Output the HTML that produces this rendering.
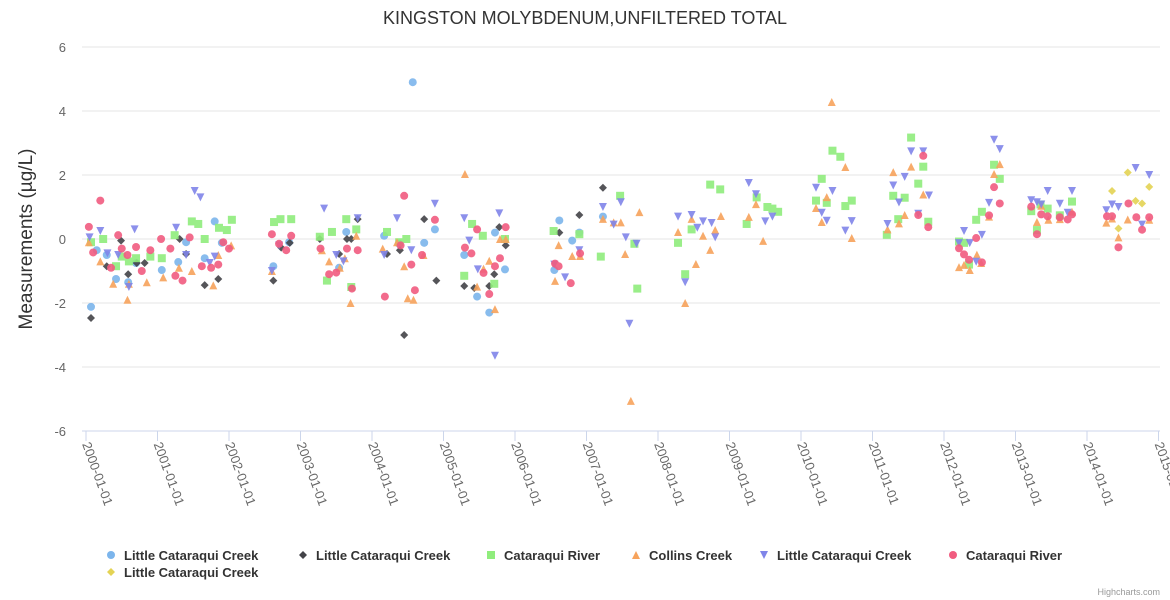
<!DOCTYPE html>
<html><head><meta charset="utf-8">
<style>
body{margin:0;background:#fff;}
svg{display:block;font-family:"Liberation Sans",Arial,sans-serif;}
</style></head>
<body>
<svg id="chart" width="1170" height="600">
<rect width="1170" height="600" fill="#fff"/>
<text x="585" y="24" text-anchor="middle" font-size="18" fill="#333">KINGSTON MOLYBDENUM,UNFILTERED TOTAL</text>
<text transform="translate(32,239) rotate(-90)" text-anchor="middle" font-size="19" fill="#333">Measurements (µg/L)</text>
<g id="grid"></g><g id="xaxis"></g><g id="marks"></g><g id="legend"></g>
<text x="1160" y="595" text-anchor="end" font-size="9" fill="#999">Highcharts.com</text>
</svg>
<script>
const yTicks=[-6,-4,-2,0,2,4,6];
const xYears=[2000,2001,2002,2003,2004,2005,2006,2007,2008,2009,2010,2011,2012,2013,2014,2015];
const seriesNames=["Little Cataraqui Creek","Little Cataraqui Creek","Cataraqui River","Collins Creek","Little Cataraqui Creek","Cataraqui River","Little Cataraqui Creek"];
const seriesColors=["#7cb5ec","#434348","#90ed7d","#f7a35c","#8085e9","#f15c80","#e4d354"];
const seriesSymbols=["circle","diamond","square","triangle","triangle-down","circle","diamond"];
const s0=[[2000.07,-2.12],[2000.15,-0.35],[2000.29,-0.5],[2000.42,-1.25],[2000.59,-1.35],[2000.7,-0.75],[2001.06,-0.97],[2001.29,-0.72],[2001.4,-0.1],[2001.66,-0.6],[2001.8,0.55],[2001.9,-0.12],[2002.62,-0.85],[2002.84,-0.1],[2003.54,-0.9],[2003.64,0.22],[2004.17,0.1],[2004.38,-0.15],[2004.57,4.9],[2004.73,-0.12],[2004.88,0.3],[2005.29,-0.5],[2005.47,-1.8],[2005.64,-2.3],[2005.72,0.2],[2005.86,-0.95],[2006.55,-0.97],[2006.62,0.58],[2006.8,-0.05],[2006.9,0.2],[2007.23,0.7]];
const s1=[[2000.07,-2.47],[2000.29,-0.85],[2000.49,-0.05],[2000.59,-1.1],[2000.71,-0.75],[2000.82,-0.75],[2001.31,0],[2001.4,-0.47],[2001.66,-1.44],[2001.85,-1.25],[2002.62,-1.3],[2002.73,-0.27],[2002.85,-0.12],[2003.27,0],[2003.54,-0.47],[2003.65,0],[2003.71,0],[2003.8,0.62],[2004.21,-0.47],[2004.39,-0.35],[2004.45,-3],[2004.73,0.62],[2004.9,-1.3],[2005.29,-1.47],[2005.43,-1.53],[2005.64,-1.47],[2005.71,-1.1],[2005.78,0.37],[2005.87,-0.2],[2006.62,0.2],[2006.9,0.75],[2007.23,1.6]];
const s2=[[2000.07,-0.1],[2000.24,0],[2000.42,-0.85],[2000.5,-0.55],[2000.6,-0.7],[2000.7,-0.6],[2000.9,-0.55],[2001.06,-0.6],[2001.24,0.12],[2001.48,0.55],[2001.57,0.47],[2001.66,0],[2001.86,0.35],[2001.97,0.28],[2002.04,0.6],[2002.63,0.53],[2002.72,0.62],[2002.87,0.62],[2003.27,0.07],[2003.44,0.22],[2003.64,0.62],[2003.78,0.3],[2003.37,-1.3],[2003.71,-1.5],[2004.21,0.22],[2004.38,-0.1],[2004.48,0],[2005.29,-1.15],[2005.4,0.47],[2005.55,0.1],[2005.71,-1.4],[2005.86,0],[2006.54,0.25],[2006.9,0.15],[2007.2,-0.55],[2007.47,1.35],[2007.67,-0.15],[2007.71,-1.55],[2008.28,-0.12],[2008.38,-1.1],[2008.47,0.3],[2008.73,1.7],[2008.87,1.55],[2009.24,0.47],[2009.38,1.3],[2009.53,1.0],[2009.6,0.95],[2009.68,0.85],[2010.44,2.76],[2010.55,2.57],[2010.29,1.88],[2010.21,1.2],[2010.36,1.13],[2010.62,1.03],[2010.71,1.2],[2011.54,3.17],[2011.71,2.26],[2011.64,1.73],[2011.29,1.35],[2011.45,1.29],[2011.36,0.62],[2011.78,0.54],[2011.2,0.13],[2012.21,-0.08],[2012.28,-0.12],[2012.35,-0.8],[2012.45,0.6],[2012.53,0.85],[2012.7,2.32],[2012.78,1.88],[2013.22,0.87],[2013.35,1.08],[2013.45,0.95],[2013.62,0.74],[2013.79,1.17],[2013.3,0.28]];
const s3=[[2000.04,-0.1],[2000.2,-0.7],[2000.38,-1.4],[2000.58,-1.9],[2000.6,-1.4],[2000.85,-1.35],[2001.08,-1.2],[2001.3,-0.9],[2001.48,-1.0],[2001.78,-1.45],[2001.85,-0.5],[2002.03,-0.2],[2002.6,-1.0],[2003.3,-0.35],[2003.4,-0.7],[2003.55,-0.9],[2003.62,-0.6],[2003.7,-2.0],[2003.78,0.1],[2004.15,-0.3],[2004.35,-0.1],[2004.45,-0.85],[2004.5,-1.85],[2004.58,-1.9],[2004.72,-0.5],[2005.3,2.03],[2005.47,-1.49],[2005.56,-0.93],[2005.64,-0.68],[2005.72,-2.19],[2005.79,0],[2005.87,0],[2006.56,-1.31],[2006.61,-0.19],[2006.8,-0.53],[2006.91,-0.53],[2007.23,0.63],[2007.38,0.52],[2007.48,0.52],[2007.54,-0.47],[2007.74,0.84],[2007.62,-5.06],[2008.28,0.22],[2008.38,-2.0],[2008.47,0.63],[2008.53,-0.78],[2008.63,0.1],[2008.73,-0.34],[2008.8,0.28],[2008.88,0.72],[2009.27,0.69],[2009.37,1.09],[2009.47,-0.06],[2010.62,2.25],[2010.36,1.31],[2010.21,0.97],[2010.29,0.53],[2010.71,0.03],[2010.43,4.28],[2011.29,2.09],[2011.54,2.26],[2011.71,1.39],[2011.45,0.75],[2011.37,0.49],[2011.21,0.3],[2012.78,2.34],[2012.7,2.03],[2012.63,0.7],[2012.46,-0.49],[2012.21,-0.88],[2012.28,-0.81],[2012.36,-0.97],[2012.52,-0.75],[2013.3,0.53],[2013.36,1.04],[2013.46,0.6],[2013.62,0.62],[2013.79,0.85],[2014.27,0.51],[2014.35,0.64],[2014.44,0.05],[2014.57,0.61],[2014.87,0.6]];
const s4=[[2000.05,0.05],[2000.2,0.25],[2000.3,-0.45],[2000.45,-0.5],[2000.6,-1.5],[2000.68,0.3],[2001.26,0.35],[2001.4,-0.5],[2001.52,1.5],[2001.6,1.3],[2001.73,-0.75],[2001.8,-0.55],[2002.6,-1.0],[2002.7,-0.2],[2003.33,0.95],[2003.5,-0.5],[2003.6,-0.7],[2003.8,0.65],[2004.17,-0.5],[2004.35,0.65],[2004.55,-0.35],[2004.88,1.1],[2005.29,0.65],[2005.36,-0.05],[2005.48,-0.95],[2005.72,-3.65],[2005.78,0.8],[2006.55,-0.8],[2006.7,-1.2],[2006.9,-0.35],[2007.23,1.0],[2007.38,0.45],[2007.48,1.15],[2007.55,0.05],[2007.6,-2.65],[2007.7,-0.15],[2008.28,0.7],[2008.38,-1.35],[2008.47,0.75],[2008.55,0.35],[2008.63,0.55],[2008.75,0.5],[2008.8,0.05],[2009.27,1.75],[2009.37,1.4],[2009.5,0.55],[2009.6,0.7],[2010.21,1.6],[2010.44,1.5],[2010.29,0.82],[2010.36,0.57],[2010.62,0.26],[2010.71,0.56],[2011.54,2.74],[2011.71,2.74],[2011.45,1.94],[2011.29,1.67],[2011.37,1.14],[2011.79,1.36],[2011.21,0.47],[2011.64,0.79],[2012.7,3.1],[2012.78,2.81],[2012.63,1.13],[2012.53,0.13],[2012.28,0.25],[2012.36,-0.13],[2012.21,-0.13],[2012.45,-0.71],[2013.22,1.21],[2013.3,1.15],[2013.36,1.08],[2013.45,1.5],[2013.62,1.1],[2013.79,1.5],[2013.73,0.82],[2014.27,0.9],[2014.35,1.08],[2014.44,1.0],[2014.68,2.22],[2014.87,2.0],[2014.77,0.45]];
const s5=[[2000.04,0.38],[2000.1,-0.42],[2000.2,1.2],[2000.35,-0.9],[2000.45,0.12],[2000.5,-0.3],[2000.58,-0.5],[2000.7,-0.25],[2000.78,-1.0],[2000.9,-0.35],[2001.05,0.0],[2001.18,-0.3],[2001.25,-1.15],[2001.35,-1.3],[2001.45,0.05],[2001.62,-0.85],[2001.75,-0.9],[2001.85,-0.8],[2001.92,-0.1],[2002.0,-0.3],[2002.6,0.15],[2002.7,-0.15],[2002.8,-0.35],[2002.87,0.1],[2003.28,-0.3],[2003.4,-1.1],[2003.5,-1.05],[2003.65,-0.3],[2003.72,-1.55],[2003.8,-0.35],[2004.18,-1.8],[2004.4,-0.2],[2004.45,1.35],[2004.55,-0.8],[2004.6,-1.6],[2004.7,-0.5],[2004.88,0.6],[2005.3,-0.27],[2005.39,-0.45],[2005.47,0.3],[2005.56,-1.06],[2005.64,-1.72],[2005.72,-0.85],[2005.79,-0.6],[2005.87,0.37],[2006.56,-0.77],[2006.61,-0.85],[2006.78,-1.38],[2006.91,-0.45],[2011.71,2.6],[2011.64,0.75],[2011.78,0.37],[2012.7,1.62],[2012.78,1.11],[2012.63,0.74],[2012.45,0.03],[2012.21,-0.29],[2012.28,-0.48],[2012.35,-0.65],[2012.53,-0.73],[2013.22,1.01],[2013.36,0.77],[2013.45,0.71],[2013.62,0.68],[2013.73,0.61],[2013.79,0.77],[2013.3,0.15],[2014.28,0.71],[2014.35,0.71],[2014.58,1.11],[2014.69,0.68],[2014.44,-0.26],[2014.87,0.68],[2014.77,0.29]];
const s6=[[2014.35,1.5],[2014.57,2.08],[2014.68,1.19],[2014.77,1.11],[2014.87,1.63],[2014.44,0.33]];
const allSeries=[s0,s1,s2,s3,s4,s5,s6];

const NS="http://www.w3.org/2000/svg";
const X0=86, PXY=71.5, Y0=239, PXV=32;
function xs(t){return X0+(t-2000)*PXY;}
function ys(v){return Y0-v*PXV;}
function mk(tag,attrs,parent){const e=document.createElementNS(NS,tag);for(const k in attrs)e.setAttribute(k,attrs[k]);parent.appendChild(e);return e;}
function symbol(sym,cx,cy,color,parent){
  const r=4;let e;
  if(sym==="circle") e=mk("circle",{cx:cx,cy:cy,r:r,fill:color},parent);
  else if(sym==="square") e=mk("rect",{x:cx-r,y:cy-r,width:2*r,height:2*r,fill:color},parent);
  else if(sym==="diamond") e=mk("path",{d:`M${cx} ${cy-r}L${cx+r} ${cy}L${cx} ${cy+r}L${cx-r} ${cy}Z`,fill:color},parent);
  else if(sym==="triangle") e=mk("path",{d:`M${cx} ${cy-r}L${cx+r} ${cy+r}L${cx-r} ${cy+r}Z`,fill:color},parent);
  else e=mk("path",{d:`M${cx-r} ${cy-r}L${cx+r} ${cy-r}L${cx} ${cy+r}Z`,fill:color},parent);
  return e;
}
const grid=document.getElementById("grid");
yTicks.forEach(v=>{
  const l=mk("line",{x1:82,x2:1160,y1:ys(v),y2:ys(v),stroke:v===-6?"#ccd6eb":"#e6e6e6","stroke-width":1},grid);
  
  
  const t=mk("text",{x:66,y:ys(v)+5,"text-anchor":"end","font-size":"13",fill:"#666"},grid);
  t.textContent=v;
  
  
});
const xa=document.getElementById("xaxis");
xYears.forEach(yr=>{
  const x=xs(yr);
  const tk=mk("line",{x1:x,x2:x,y1:431,y2:441,stroke:"#ccd6eb"},xa);
  
  
  const t=mk("text",{transform:`translate(${x-4},${444}) rotate(70)`,"font-size":"13",fill:"#666"},xa);
  t.textContent=yr+"-01-01";
  
  
});
const marks=document.getElementById("marks");
allSeries.forEach((s,i)=>{
  const g=mk("g",{opacity:"0.9"},marks);
  
  
  s.forEach(p=>{
    const e=symbol(seriesSymbols[i],xs(p[0]),ys(p[1]),seriesColors[i],g);
    
    
  });
});
const lg=document.getElementById("legend");
const legX=[111,303,491,636,764,953,111], legY=[555,555,555,555,555,555,572];
seriesNames.forEach((n,i)=>{
  const g=mk("g",{},lg);
  
  
  symbol(seriesSymbols[i],legX[i],legY[i],seriesColors[i],g);
  const t=mk("text",{x:legX[i]+13,y:legY[i]+5,"font-size":"13","font-weight":"bold",fill:"#333"},g);
  t.textContent=n;
});
</script>
</body></html>
